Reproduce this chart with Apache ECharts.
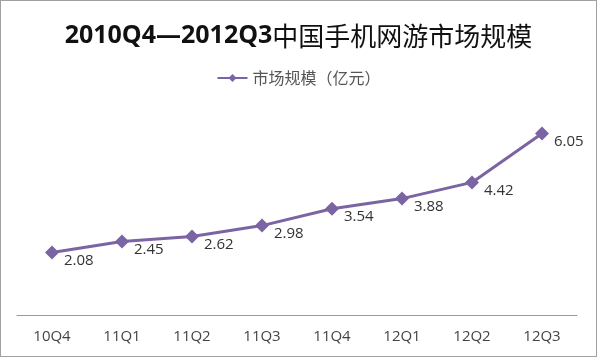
<!DOCTYPE html>
<html><head><meta charset="utf-8">
<script src="https://cdn.jsdelivr.net/npm/echarts@6/dist/echarts.min.js"></script>
<style>html,body{margin:0;padding:0;background:#fff}#c{width:597px;height:357px;box-sizing:border-box;border:1px solid #a0a0a0}</style>
</head><body><div id="c"></div>
<script>
var categories = ['10Q4','11Q1','11Q2','11Q3','11Q4','12Q1','12Q2','12Q3'];
var values = [2.08, 2.45, 2.62, 2.98, 3.54, 3.88, 4.42, 6.05];
var seriesName = '市场规模（亿元）';
var titlePart1 = '2010Q4—2012Q3';
var titlePart2 = '中国手机网游市场规模';
var chart = echarts.init(document.getElementById('c'));
chart.setOption({
  animation:false,
  title:{text:'{a|'+titlePart1+'}{b|'+titlePart2+'}',left:'center',top:17,
    textStyle:{rich:{
      a:{fontFamily:'Open Sans',fontSize:25,fontWeight:'bold',color:'#111'},
      b:{fontFamily:'Noto Sans CJK SC',fontSize:26,fontWeight:'normal',color:'#111'}}}},
  legend:{top:64,left:'center',itemWidth:30,itemHeight:10,itemGap:8,textStyle:{fontFamily:'Noto Sans CJK SC',fontSize:16,color:'#555'},data:[seriesName]},
  grid:{left:16,right:19,top:104,bottom:41},
  xAxis:{type:'category',data:categories,axisLine:{lineStyle:{color:'#999'}},axisTick:{show:false},
    axisLabel:{fontFamily:'Open Sans',fontSize:15,color:'#444',margin:14}},
  yAxis:{type:'value',min:0,max:7,show:false,splitLine:{show:false}},
  series:[{name:seriesName,type:'line',data:values,symbol:'diamond',symbolSize:14,
    lineStyle:{width:3,color:'#7b64a3'},itemStyle:{color:'#7b64a3'},
    label:{show:true,position:'right',offset:[0,8],fontFamily:'Open Sans',fontSize:15,color:'#333'}}]
});
</script></body></html>
